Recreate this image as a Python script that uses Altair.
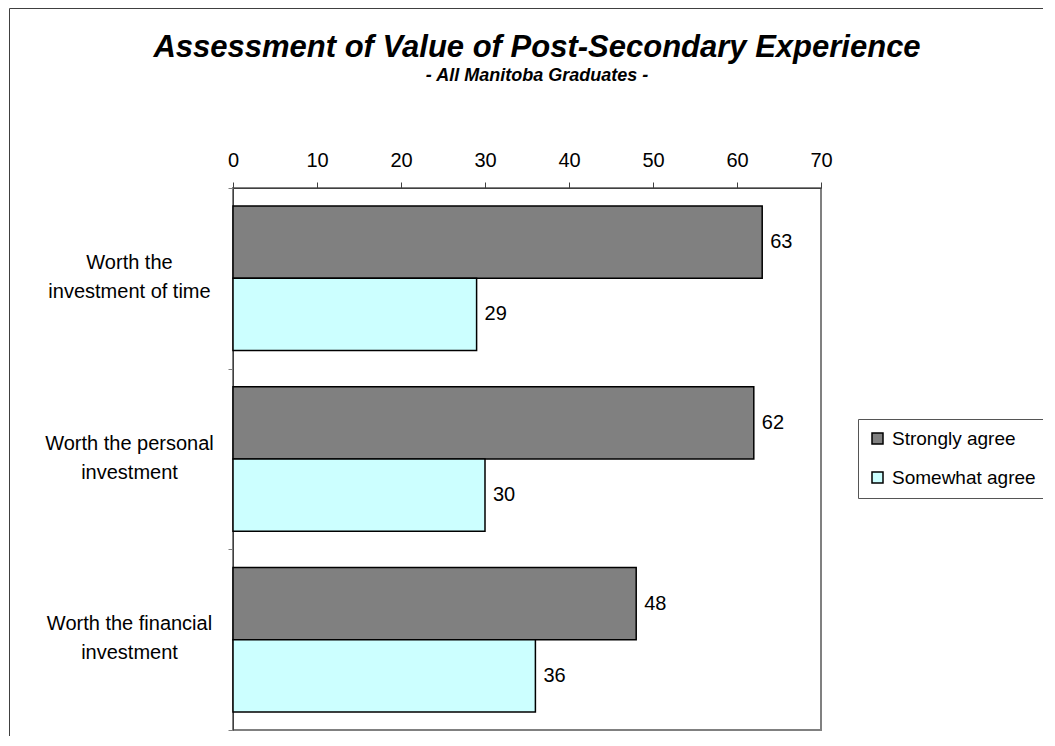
import altair as alt
import pandas as pd

# ---- data ----
categories = [
    "Worth the\ninvestment of time",
    "Worth the personal\ninvestment",
    "Worth the financial\ninvestment",
]
series = ["Strongly agree", "Somewhat agree"]
strongly_agree = [63, 62, 48]
somewhat_agree = [29, 30, 36]
series_colors = ["#808080", "#CCFFFF"]
x_ticks = [0, 10, 20, 30, 40, 50, 60, 70]

rows = []
for cat, a, b in zip(categories, strongly_agree, somewhat_agree):
    rows.append({"category": cat, "series": series[0], "value": a})
    rows.append({"category": cat, "series": series[1], "value": b})
df = pd.DataFrame(rows)

FONT = "Liberation Sans"

x_enc = alt.X(
    "value:Q",
    scale=alt.Scale(domain=[0, 70], nice=False),
    axis=alt.Axis(
        orient="top", values=x_ticks, title=None, tickSize=6, labelPadding=12,
        labelFontSize=20, labelColor="black", domainColor="#404040",
        tickColor="#404040", grid=False, labelFlush=False,
    ),
)
y_enc = alt.Y(
    "category:N",
    sort=categories,
    scale=alt.Scale(paddingInner=0, paddingOuter=0),
    axis=alt.Axis(
        title=None, labelExpr="split(datum.label, '\\n')", labelAlign="center",
        labelBaseline="middle", labelPadding=99, labelFontSize=20,
        labelLineHeight=29, labelLimit=400, labelColor="black",
        labelOffset=-16,
        tickBand="extent", tickSize=5, tickColor="#808080",
        domainColor="#404040",
    ),
)
yoff_enc = alt.YOffset(
    "series:N", sort=series,
    scale=alt.Scale(domain=series, paddingInner=0, paddingOuter=0.25),
)

base = alt.Chart(df)

bars = base.mark_bar(stroke="black", strokeWidth=1.5).encode(
    x=x_enc,
    y=y_enc,
    yOffset=yoff_enc,
    color=alt.Color(
        "series:N",
        scale=alt.Scale(domain=series, range=series_colors),
        legend=alt.Legend(
            title=None, orient="none", legendX=625, legendY=231,
            symbolType="square", symbolSize=121, symbolStrokeColor="black",
            symbolStrokeWidth=1.5, labelFontSize=19, labelColor="black",
            labelOffset=5, rowPadding=19, padding=10, strokeColor="#555555",
            fillColor="white", labelLimit=400,
        ),
    ),
)

labels = base.mark_text(
    align="left", baseline="middle", dx=8, fontSize=20, color="black"
).encode(x=x_enc, y=y_enc, yOffset=yoff_enc, text="value:Q")

frame = alt.Chart(pd.DataFrame({"f": [0]})).mark_rect(
    fillOpacity=0, stroke="#404040", strokeWidth=1
).encode(
    x=alt.value(-223.5), y=alt.value(-179.5), x2=alt.value(1000), y2=alt.value(1000)
)

chart = alt.layer(frame, bars, labels).properties(
    width=588,
    height=542,
    autosize=alt.AutoSizeParams(type="none"),
    padding={"left": 225, "top": 180, "right": 222, "bottom": 6},
    title=alt.TitleParams(
        text="Assessment of Value of Post-Secondary Experience",
        subtitle="- All Manitoba Graduates -",
        fontSize=31, fontStyle="italic", fontWeight="bold", color="black",
        subtitleFontSize=18, subtitleFontStyle="italic",
        subtitleFontWeight="bold", subtitleColor="black",
        anchor="middle", offset=-78, dx=10, subtitlePadding=3,
    ),
).configure(font=FONT).configure_view(stroke="#808080", strokeWidth=2)

chart.save("out.html", embed_options={"renderer": "svg", "actions": False})
